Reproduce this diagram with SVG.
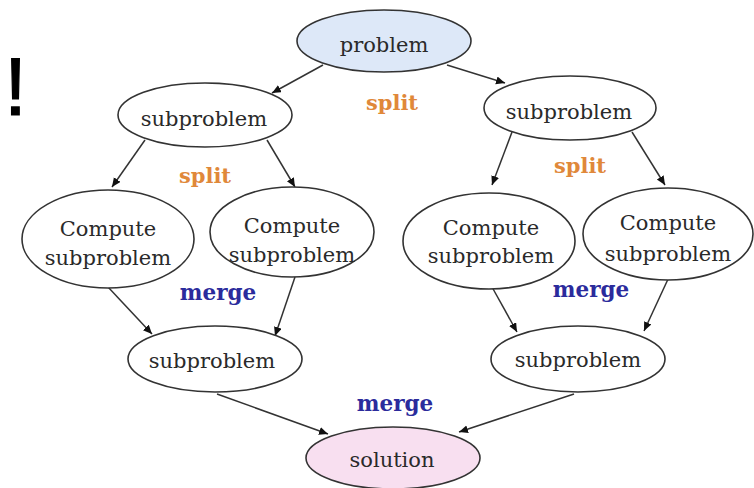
<svg xmlns="http://www.w3.org/2000/svg" width="754" height="488" viewBox="0 0 754 488">
<style>
.node ellipse{fill:#ffffff;stroke:#333333;stroke-width:1.6}
.node text{font-family:"DejaVu Serif","Liberation Serif",serif;font-size:21px;fill:#2a2a2a;text-anchor:middle}
.edge line{stroke:#333333;stroke-width:1.5;marker-end:url(#ah)}
.split{font-family:"DejaVu Serif","Liberation Serif",serif;font-size:21px;font-weight:bold;fill:#e0883a;text-anchor:middle}
.merge{font-family:"DejaVu Serif","Liberation Serif",serif;font-size:21.5px;font-weight:bold;fill:#2b2b9c;text-anchor:middle}
</style>
<defs>
<marker id="ah" markerUnits="userSpaceOnUse" markerWidth="12" markerHeight="10" refX="9" refY="4" orient="auto">
<path d="M0,0 L9,4 L0,8 Z" fill="#111111"/>
</marker>
</defs>
<rect width="754" height="488" fill="#ffffff"/>
<text x="15.5" y="115" font-family="Liberation Sans, Arial, sans-serif" font-size="81" text-anchor="middle" fill="#000000" stroke="#000000" stroke-width="1.2">!</text>
<g id="edges" class="edge">
<line x1="323" y1="65" x2="272" y2="93"/>
<line x1="447" y1="65" x2="505" y2="83"/>
<line x1="145" y1="140" x2="112" y2="187"/>
<line x1="267" y1="140" x2="295" y2="187"/>
<line x1="512" y1="132" x2="492" y2="185"/>
<line x1="632" y1="132" x2="665" y2="185"/>
<line x1="108" y1="287" x2="152" y2="334"/>
<line x1="295" y1="277" x2="275" y2="336"/>
<line x1="492" y1="287" x2="517" y2="332"/>
<line x1="669" y1="277" x2="644" y2="331"/>
<line x1="217" y1="394" x2="328" y2="434"/>
<line x1="574" y1="394" x2="459" y2="432"/>
</g>
<g id="problem" class="node"><ellipse cx="384" cy="41" rx="87" ry="31" style="fill:#dde8f8"/><text x="384" y="52">problem</text></g>
<g id="sub-left" class="node"><ellipse cx="205" cy="115" rx="87" ry="32"/><text x="204" y="126">subproblem</text></g>
<g id="sub-right" class="node"><ellipse cx="570" cy="108" rx="86" ry="32"/><text x="569" y="119">subproblem</text></g>
<g id="compute-1" class="node"><ellipse cx="108" cy="239" rx="86" ry="49"/><text x="108" y="236">Compute</text><text x="108" y="265">subproblem</text></g>
<g id="compute-2" class="node"><ellipse cx="292" cy="232" rx="82" ry="45"/><text x="292" y="233">Compute</text><text x="292" y="262">subproblem</text></g>
<g id="compute-3" class="node"><ellipse cx="489" cy="241" rx="86" ry="48"/><text x="491" y="235">Compute</text><text x="491" y="263">subproblem</text></g>
<g id="compute-4" class="node"><ellipse cx="668" cy="234" rx="85" ry="46"/><text x="668" y="230">Compute</text><text x="668" y="261">subproblem</text></g>
<g id="merge-left" class="node"><ellipse cx="215" cy="359" rx="87" ry="33"/><text x="212" y="368">subproblem</text></g>
<g id="merge-right" class="node"><ellipse cx="578" cy="359" rx="87" ry="33"/><text x="578" y="367">subproblem</text></g>
<g id="solution" class="node"><ellipse cx="393" cy="458" rx="87" ry="31" style="fill:#f8dff0"/><text x="392" y="467">solution</text></g>
<g id="labels">
<text class="split" x="392" y="110">split</text>
<text class="split" x="205" y="183">split</text>
<text class="split" x="580" y="173">split</text>
<text class="merge" x="218" y="300">merge</text>
<text class="merge" x="591" y="297">merge</text>
<text class="merge" x="395" y="411">merge</text>
</g>
</svg>
